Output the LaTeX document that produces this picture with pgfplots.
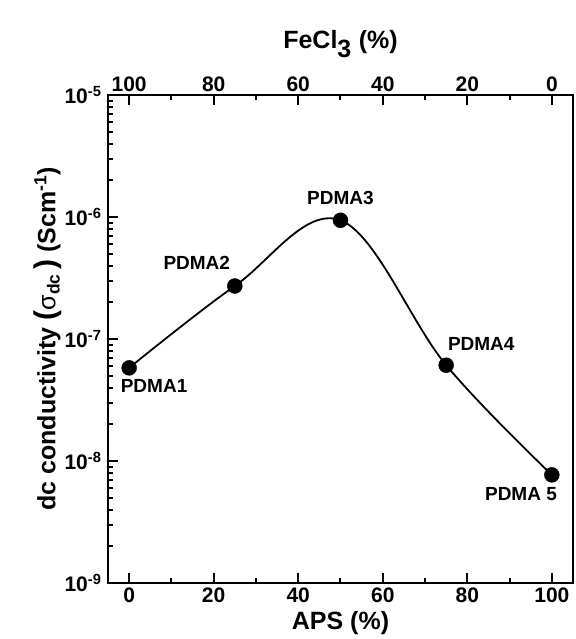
\documentclass[border=0pt]{standalone}
\usepackage{pgfplots}
\pgfplotsset{compat=1.18}
\usepackage{fontspec}
\setmainfont{Liberation Sans}
\begin{document}
\begin{tikzpicture}
\pgfplotsset{common/.style={
  width=465pt, height=488pt, scale only axis,
  xmin=-5, xmax=105,
  /pgf/number format/assume math mode=true,
  tick label style={font=\fontsize{21}{21}\selectfont\bfseries},
  label style={font=\fontsize{25}{25}\selectfont\bfseries},
  axis line style={line width=2.5pt, -},
  every tick/.style={black, line width=2pt},
  major tick length=10pt, minor tick length=5pt,
  tick align=inside,
}}
\begin{axis}[common, name=main,
  ymode=log, ymin=1e-9, ymax=1e-5,
  xtick={0,20,...,100}, minor xtick={10,30,...,90},
  xtick pos=bottom, ytick pos=left,
  ytick={1e-9,1e-8,1e-7,1e-6,1e-5},
  yticklabels={10\textsuperscript{-9},10\textsuperscript{-8},10\textsuperscript{-7},10\textsuperscript{-6},10\textsuperscript{-5}},
  minor ytick={2e-9,3e-9,4e-9,5e-9,6e-9,7e-9,8e-9,9e-9,
               2e-8,3e-8,4e-8,5e-8,6e-8,7e-8,8e-8,9e-8,
               2e-7,3e-7,4e-7,5e-7,6e-7,7e-7,8e-7,9e-7,
               2e-6,3e-6,4e-6,5e-6,6e-6,7e-6,8e-6,9e-6},
  xticklabel style={yshift=-1pt},
  yticklabel style={xshift=-3pt},
  xlabel={APS (\%)},
  ylabel={dc conductivity {\fontsize{30}{30}\selectfont(}{\mdseries σ}\textsubscript{dc}\,{\fontsize{30}{30}\selectfont)} (Scm\textsuperscript{-1})},
  xlabel style={yshift=-2pt},
  ylabel style={yshift=-4pt},
]
\addplot[smooth, tension=0.6, line width=1.8pt, black] coordinates {
  (0,5.8e-8) (25,2.72e-7) (50,9.4e-7) (75,6.1e-8) (100,7.7e-9)
};
\addplot[only marks, mark=*, mark size=7.5pt, black] coordinates {
  (0,5.8e-8) (25,2.72e-7) (50,9.4e-7) (75,6.1e-8) (100,7.7e-9)
};
\node[font=\fontsize{19}{19}\selectfont\bfseries] at (axis cs:5.9,4.12e-8) {PDMA1};
\node[font=\fontsize{19}{19}\selectfont\bfseries] at (axis cs:16,4.2e-7) {PDMA2};
\node[font=\fontsize{19}{19}\selectfont\bfseries] at (axis cs:50,1.43e-6) {PDMA3};
\node[font=\fontsize{19}{19}\selectfont\bfseries] at (axis cs:83.3,9.1e-8) {PDMA4};
\node[font=\fontsize{19}{19}\selectfont\bfseries] at (axis cs:92.7,5.4e-9) {PDMA 5};
\end{axis}
\begin{axis}[common,
  ymin=0, ymax=1,
  axis x line*=top, axis y line=none,
  xtick={0,20,...,100}, minor xtick={10,30,...,90},
  xticklabels={100,80,60,40,20,0},
  xticklabel style={yshift=0pt},
  xlabel={FeCl\textsubscript{\fontsize{25}{25}\selectfont 3} (\%)},
  xlabel style={yshift=12pt},
]
\end{axis}
\path (main.south west) ++(-108pt,-56pt) coordinate (bl);
\path (main.north east) ++(3pt,95pt) coordinate (tr);
\path (bl) (tr);
\end{tikzpicture}
\end{document}
